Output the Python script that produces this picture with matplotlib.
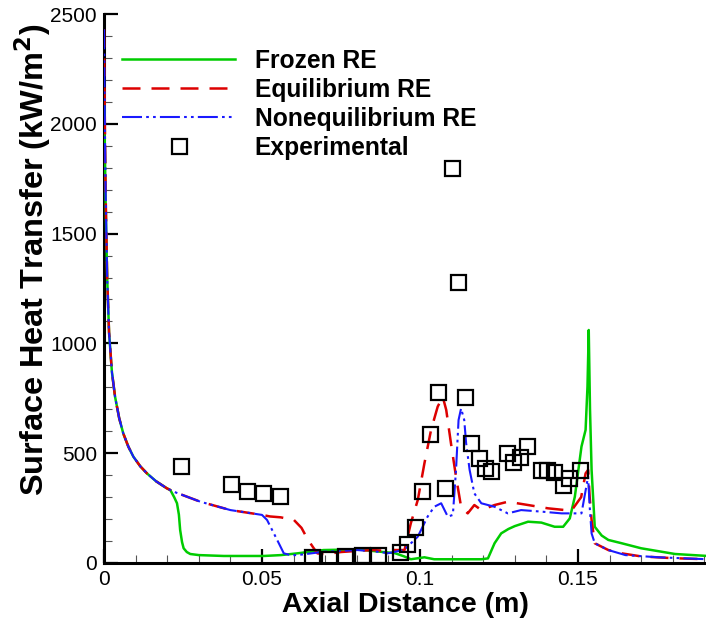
import matplotlib
matplotlib.use("Agg")
import matplotlib.pyplot as plt
from matplotlib.ticker import MultipleLocator, FixedLocator, FixedFormatter

# ---- data -------------------------------------------------------------
frozen_x = [0.0, 0.0002, 0.0005, 0.001, 0.0016, 0.0025, 0.0035, 0.0048, 0.0061,
            0.0077, 0.0093, 0.0115, 0.0136, 0.0165, 0.0199, 0.021, 0.0222, 0.0231,
            0.0237, 0.0241, 0.0247, 0.0252, 0.0262, 0.0273, 0.030, 0.0379, 0.0506,
            0.056, 0.0612, 0.0695, 0.0802, 0.0876, 0.092, 0.095, 0.0971, 0.0995,
            0.1014, 0.1045, 0.1088, 0.115, 0.1194, 0.1215, 0.1236, 0.1257, 0.128,
            0.130, 0.1342, 0.1384, 0.1426, 0.1453, 0.1474, 0.149, 0.1511, 0.1524,
            0.153, 0.1534, 0.1538, 0.1543, 0.1553, 0.1575, 0.1596, 0.1638, 0.170,
            0.1807, 0.191]
frozen_y = [2150, 1950, 1650, 1300, 1050, 870, 757, 660, 590,
            530, 484, 440, 408, 372, 340, 332, 300, 272,
            220, 150, 95, 67, 50, 41, 36, 32, 32,
            36, 44, 59, 62, 51, 45, 30, 17, 22,
            26, 17, 17, 17, 17, 21, 90, 135, 155,
            168, 188, 184, 165, 165, 203, 302, 530, 606,
            803, 1061, 700, 424, 165, 125, 105, 90, 67,
            41, 32]

equil_x = [0.0, 0.0002, 0.0005, 0.001, 0.0016, 0.0025, 0.0035, 0.0048, 0.0061,
           0.0077, 0.0093, 0.0115, 0.0136, 0.0165, 0.0199, 0.022, 0.0305, 0.040,
           0.050, 0.0525, 0.0559, 0.0601, 0.0625, 0.0643, 0.066, 0.0675, 0.070,
           0.075, 0.080, 0.085, 0.0898, 0.0918, 0.0951, 0.0971, 0.0993, 0.1014,
           0.1035, 0.1056, 0.1072, 0.1083, 0.1098, 0.1114, 0.113, 0.1151, 0.1172,
           0.1194, 0.1236, 0.1278, 0.1342, 0.1405, 0.1479, 0.151, 0.1524, 0.1532,
           0.1537, 0.1543, 0.1553, 0.1575, 0.1596, 0.1638, 0.170, 0.180, 0.191]
equil_y = [2430, 2100, 1700, 1300, 1050, 870, 757, 660, 590,
           530, 484, 440, 408, 372, 340, 325, 279, 241,
           219, 212, 208, 196, 160, 112, 75, 44, 40,
           50, 55, 59, 55, 59, 59, 181, 287, 454,
           606, 712, 757, 697, 545, 393, 256, 226, 264,
           241, 264, 279, 264, 249, 238, 300, 408, 424,
           300, 196, 90, 74, 59, 44, 30, 22, 17]

noneq_x = [0.0, 0.0002, 0.0005, 0.001, 0.0016, 0.0025, 0.0035, 0.0048, 0.0061,
           0.0077, 0.0093, 0.0115, 0.0136, 0.0165, 0.0199, 0.022, 0.0305, 0.040,
           0.050, 0.0516, 0.0548, 0.0569, 0.059, 0.0612, 0.0695, 0.0802, 0.0876,
           0.0898, 0.095, 0.0993, 0.1024, 0.1045, 0.1067, 0.1088, 0.1104, 0.1114,
           0.1122, 0.113, 0.114, 0.1146, 0.1157, 0.1172, 0.1194, 0.1236, 0.1278,
           0.132, 0.1384, 0.1448, 0.1511, 0.1532, 0.1537, 0.1543, 0.1553, 0.1575,
           0.1596, 0.165, 0.1754, 0.191]
noneq_y = [2430, 2100, 1700, 1300, 1050, 870, 757, 660, 590,
           530, 484, 440, 408, 372, 340, 325, 279, 241,
           219, 196, 105, 44, 36, 36, 51, 59, 50,
           44, 60, 120, 211, 256, 272, 211, 219, 424,
           651, 704, 651, 545, 424, 317, 272, 256, 226,
           241, 234, 226, 226, 393, 256, 135, 90, 74,
           59, 36, 26, 17]

exp_x = [0.0244, 0.0401, 0.0452, 0.0502, 0.0556, 0.0659, 0.0713, 0.0762,
         0.0818, 0.0867, 0.0937, 0.0958, 0.0983, 0.1007, 0.1033, 0.1058, 0.1079,
         0.1102, 0.1121, 0.1143, 0.1162, 0.1186, 0.1207, 0.1225, 0.1274, 0.1294,
         0.1317, 0.1339, 0.1382, 0.1403, 0.1425, 0.1454, 0.1470, 0.1505]
exp_y = [443, 361, 329, 317, 305, 29, 17, 32,
         36, 36, 50, 85, 165, 328, 586, 780, 340,
         1800, 1279, 757, 548, 480, 434, 420, 502, 459,
         481, 534, 424, 424, 414, 355, 387, 424]

x_ticks = [0, 0.05, 0.1, 0.15]
x_tick_labels = ["0", "0.05", "0.1", "0.15"]
y_ticks = [0, 500, 1000, 1500, 2000, 2500]
y_tick_labels = ["0", "500", "1000", "1500", "2000", "2500"]

# ---- figure -----------------------------------------------------------
plt.rcParams["font.family"] = ["Liberation Sans", "DejaVu Sans"]
W, H = 706, 625
fig = plt.figure(figsize=(W / 100, H / 100), dpi=100)
ax = fig.add_axes([104 / W, (H - 563) / H, (W - 104) / W, (563 - 14) / H])

ax.plot(frozen_x, frozen_y, color="#00cc00", lw=1.8, label="Frozen RE", zorder=3)
ax.plot(equil_x, equil_y, color="#dd0000", lw=1.8, ls=(0, (7.2, 4.4)),
        label="Equilibrium RE", zorder=4)
ax.plot(noneq_x, noneq_y, color="#1a1aff", lw=1.5,
        ls=(0, (9.6, 2.0, 1.3, 2.0, 1.3, 2.0)), label="Nonequilibrium RE", zorder=5)
ax.plot(exp_x, exp_y, ls="none", marker="s", ms=10.8, mfc="none", mec="black",
        mew=1.6, label="Experimental", zorder=6)

ax.set_xlim(0, 602 / 3160)
ax.set_ylim(0, 2500)

ax.xaxis.set_major_locator(FixedLocator(x_ticks))
ax.xaxis.set_major_formatter(FixedFormatter(x_tick_labels))
ax.yaxis.set_major_locator(FixedLocator(y_ticks))
ax.yaxis.set_major_formatter(FixedFormatter(y_tick_labels))
ax.xaxis.set_minor_locator(MultipleLocator(0.01))
ax.yaxis.set_minor_locator(MultipleLocator(100))

ax.tick_params(which="major", direction="in", length=10, width=1.6,
               labelsize=15, pad=5, color="black")
ax.tick_params(which="minor", direction="in", length=6, width=0.8, color="#555555")

for side in ("top", "right"):
    ax.spines[side].set_visible(False)
for side in ("left", "bottom"):
    ax.spines[side].set_linewidth(2.2)

ax.set_xlabel("Axial Distance (m)", fontsize=20.5, fontweight="bold", labelpad=2)
fig.text(33 / W, 1 - 260 / H, "Surface Heat Transfer (kW/m$^\\mathbf{2}$)",
         rotation=90, ha="center", va="center", fontsize=23.4, fontweight="bold")

leg = ax.legend(loc="upper left", bbox_to_anchor=(122 / W, 1 - 49 / H),
                bbox_transform=fig.transFigure, frameon=False, numpoints=1,
                handlelength=4.6, handletextpad=0.8, labelspacing=0.2,
                borderpad=0, borderaxespad=0,
                prop={"family": "Liberation Sans", "weight": "bold", "size": 17.7})

fig.savefig("out.png", dpi=100)
